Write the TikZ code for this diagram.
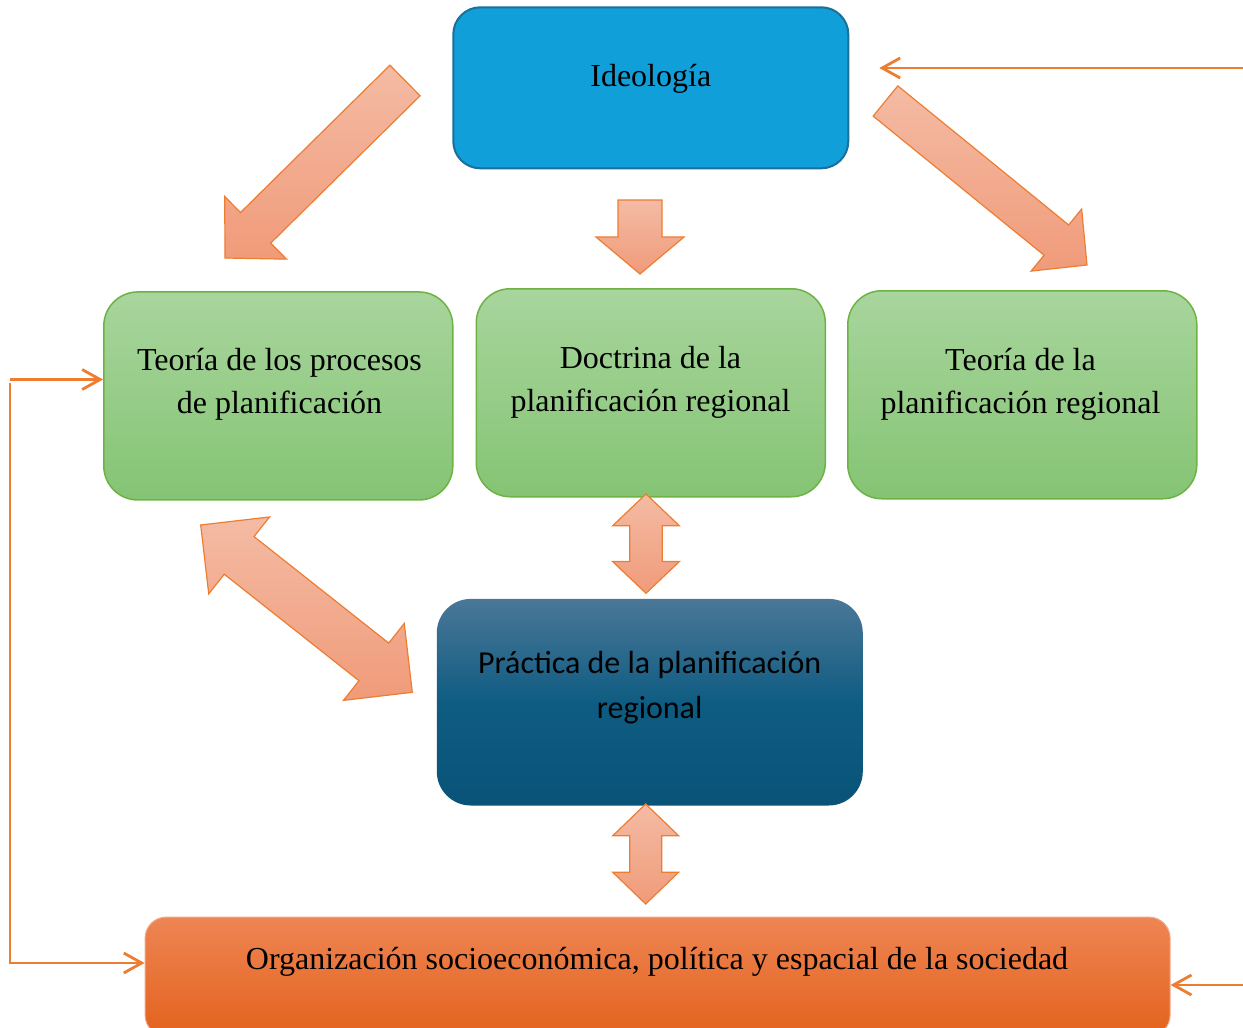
\documentclass[tikz,border=0pt]{standalone}
\usepackage{fontspec}
\setmainfont{Liberation Serif}
\newfontfamily\pracfont{Carlito}
\usetikzlibrary{arrows.meta,positioning,calc}
\definecolor{ideoblue}{HTML}{109FD8}
\definecolor{ideoline}{HTML}{1B6F9C}
\definecolor{greentop}{HTML}{A8D59D}
\definecolor{greenbot}{HTML}{85C474}
\definecolor{greenline}{HTML}{6DB344}
\definecolor{practop}{HTML}{4A7797}
\definecolor{pracmid}{HTML}{0F5C82}
\definecolor{pracbot}{HTML}{095378}
\definecolor{orgtop}{HTML}{EE8553}
\definecolor{orgbot}{HTML}{E3621D}
\definecolor{orline}{HTML}{ED7D31}
\definecolor{arrtop}{HTML}{F4BBA4}
\definecolor{arrbot}{HTML}{F09B7A}

% #1 tail, #2 tip, #3 half shaft, #4 half head, #5 head length
\newcommand{\blockarrow}[5]{%
  \draw[barrow] ($(#1)!#3!90:(#2)$)
    -- ($(#2)!#5!(#1)!#3!90:(#2)$) -- ($(#2)!#5!(#1)!#4!90:(#2)$)
    -- (#2)
    -- ($(#2)!#5!(#1)!#4!-90:(#2)$) -- ($(#2)!#5!(#1)!#3!-90:(#2)$)
    -- ($(#1)!#3!-90:(#2)$) -- cycle;}
\newcommand{\dblarrow}[5]{%
  \draw[barrow] (#1)
    -- ($(#1)!#5!(#2)!#4!90:(#2)$) -- ($(#1)!#5!(#2)!#3!90:(#2)$)
    -- ($(#2)!#5!(#1)!#3!90:(#2)$) -- ($(#2)!#5!(#1)!#4!90:(#2)$)
    -- (#2)
    -- ($(#2)!#5!(#1)!#4!-90:(#2)$) -- ($(#2)!#5!(#1)!#3!-90:(#2)$)
    -- ($(#1)!#5!(#2)!#3!-90:(#2)$) -- ($(#1)!#5!(#2)!#4!-90:(#2)$)
    -- cycle;}

\begin{document}
\begin{tikzpicture}[
  x=0.5pt,y=-0.5pt,
  box/.style={rounded corners=17pt,inner sep=0pt},
  gbox/.style={box,top color=greentop,bottom color=greenbot,draw=greenline,line width=0.75pt,minimum width=174.5pt,minimum height=104pt},
  txt/.style={font=\fontsize{16}{21.4}\selectfont,align=center,inner sep=0pt,anchor=base},
  barrow/.style={draw=orline,line width=0.6pt,line join=miter,top color=arrtop,bottom color=arrbot},
  link/.style={orline,line width=1.4pt,-{Straight Barb[length=9pt,width=10pt]}}
]
\useasboundingbox (0,0) rectangle (1243,1028);
\clip (0,0) rectangle (1243,1028);
\node[box,rounded corners=13.5pt,fill=ideoblue,draw=ideoline,line width=1pt,minimum width=197.5pt,minimum height=80.5pt] (ideo) at (650.8,87.8) {};
\node[gbox,below=59.35pt of ideo] (doctrina) {};
\node[gbox,left=11pt of doctrina,yshift=-1.6pt] (teoproc) {};
\node[gbox,right=10.5pt of doctrina,yshift=-1pt] (teoplan) {};
\node[box,top color=practop,bottom color=pracbot,middle color=pracmid,minimum width=213pt,minimum height=103.3pt,below=50.5pt of doctrina,xshift=-0.5pt] (practica) {};
\node[box,rounded corners=10.5pt,top color=orgtop,bottom color=orgbot,draw=orgtop!70!white,line width=0.5pt,minimum width=512.5pt,minimum height=59.5pt,below=55.35pt of practica,xshift=3.9pt] (org) {};

\node[txt] (ideo-t) at (650.8,86.7) {Ideología};
\node[txt] (teoproc-t) at (279.5,413.3) {Teoría de los procesos\\de planificación};
\node[txt] (doctrina-t) at (650.5,411) {Doctrina de la\\planificación regional};
\node[txt] (teoplan-t) at (1020.5,413) {Teoría de la\\planificación regional};
\node[txt,font=\pracfont\fontsize{16}{22.5}\selectfont] (practica-t) at (649.7,718.3) {Práctica de la planificación\\regional};
\node[txt] (org-t) at (657,969) {Organización socioeconómica, política y espacial de la sociedad};

\coordinate (a1s) at (405,80.5);
\coordinate (a1e) at (225,258);
\coordinate (a2s) at (640,200);
\coordinate (a2e) at (640,274);
\coordinate (a3s) at (885.5,101);
\coordinate (a3e) at (1087,265);
\coordinate (a4s) at (200.7,525);
\coordinate (a4e) at (412.3,692.3);
\coordinate (a5s) at (646,494);
\coordinate (a5e) at (646,593.3);
\coordinate (a6s) at (645.7,804);
\coordinate (a6e) at (645.7,904);
\blockarrow{a1s}{a1e}{10.75pt}{22pt}{21.5pt}
\blockarrow{a2s}{a2e}{11pt}{22pt}{18.5pt}
\blockarrow{a3s}{a3e}{9.75pt}{20pt}{19.75pt}
\dblarrow{a4s}{a4e}{12pt}{24.5pt}{24.5pt}
\dblarrow{a5s}{a5e}{8.1pt}{16.7pt}{15.9pt}
\dblarrow{a6s}{a6e}{8pt}{16.5pt}{15.9pt}

\coordinate (rtop) at (1243,68);
\coordinate (rbot) at (1243,985);
\coordinate (lpt) at (10,379.5);
\coordinate (lpb) at (10,963);
\draw[link] (rtop) -- ($(rtop -| ideo.east)+(15pt,0)$);
\draw[link] (rbot) -- (rbot -| org.east);
\draw[link] (lpt) -- (lpt -| teoproc.west);
\draw[link] ($(lpt)+(0,3)$) -- (lpb) -- (lpb -| org.west);
\end{tikzpicture}
\end{document}
